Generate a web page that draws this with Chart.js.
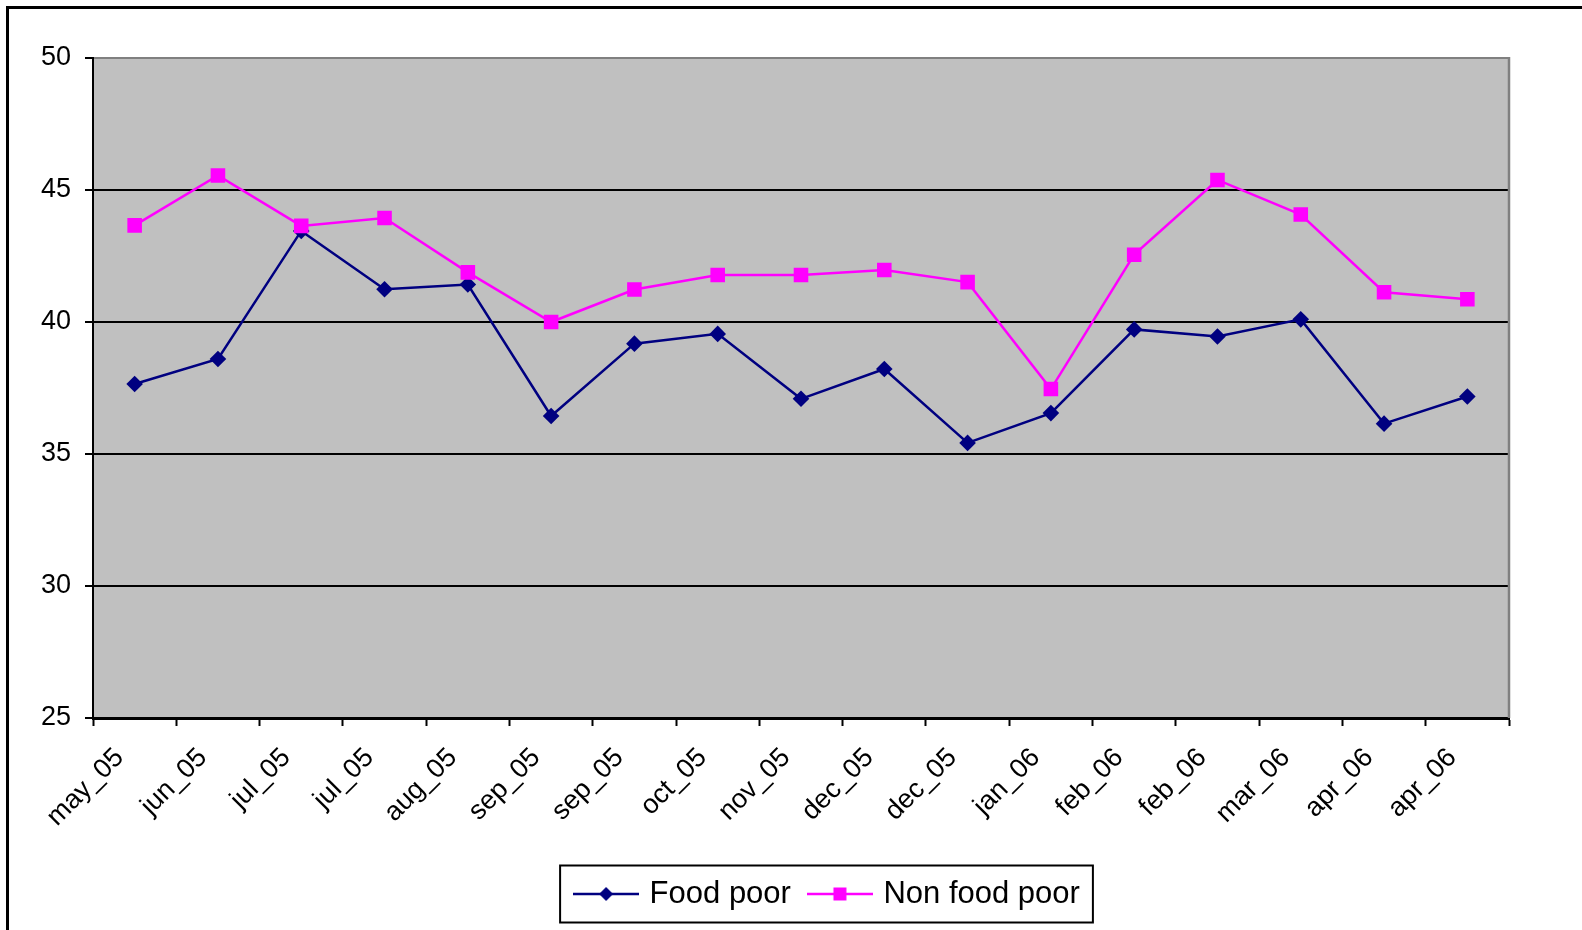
<!DOCTYPE html>
<html>
<head>
<meta charset="utf-8">
<script src="https://cdn.jsdelivr.net/npm/chart.js@4.4.1/dist/chart.umd.min.js"></script>
<style>
  html, body { margin: 0; padding: 0; background: #fff; overflow: hidden; }
  #c { position: absolute; left: 0; top: 0; }
  #frame { position: absolute; left: 6px; top: 6px; width: 1700px; height: 1000px;
           border: 3px solid #000; box-sizing: border-box; pointer-events: none; }
</style>
</head>
<body>
<canvas id="c" width="1658" height="930"></canvas>
<div id="frame"></div>
<script>
// Survey rounds (x axis)
const categories = ['may_05', 'jun_05', 'jul_05', 'jul_05', 'aug_05', 'sep_05', 'sep_05', 'oct_05',
  'nov_05', 'dec_05', 'dec_05', 'jan_06', 'feb_06', 'feb_06', 'mar_06', 'apr_06', 'apr_06'];

// Share of households per round
const foodPoor = [37.65, 38.6, 43.45, 41.24, 41.42, 36.44, 39.18, 39.55, 37.09,
  38.22, 35.42, 36.55, 39.72, 39.45, 40.1, 36.15, 37.18];
const nonFoodPoor = [43.66, 45.55, 43.64, 43.94, 41.88, 40.0, 41.23, 41.78, 41.78,
  41.97, 41.51, 37.46, 42.55, 45.38, 44.07, 41.13, 40.86];

const seriesNames = ['Food poor', 'Non food poor'];
const yMin = 25, yMax = 50, yStep = 5;

const FONT = "'Liberation Sans', Arial, Helvetica, sans-serif";
const NAVY = '#000080', MAGENTA = '#FF00FF';

// Legend swatch: short line with the series marker in the middle
function legendSwatch(color, style, r) {
  const cv = document.createElement('canvas');
  cv.width = 66; cv.height = 20;
  const g = cv.getContext('2d');
  g.strokeStyle = color; g.lineWidth = 2.5;
  g.beginPath(); g.moveTo(0, 10); g.lineTo(66, 10); g.stroke();
  g.fillStyle = color;
  g.beginPath();
  if (style === 'rectRot') {
    g.moveTo(33, 10 - r); g.lineTo(33 + r, 10); g.lineTo(33, 10 + r); g.lineTo(33 - r, 10);
    g.closePath();
  } else {
    g.rect(33 - r, 10 - r, 2 * r, 2 * r);
  }
  g.fill();
  return cv;
}
const swatches = [legendSwatch(NAVY, 'rectRot', 7), legendSwatch(MAGENTA, 'rect', 6.5)];

const CANVAS_W = 1658;
const PLOT_RIGHT = 1509;

const plotDecor = {
  id: 'plotDecor',
  beforeDraw(chart) {
    const { ctx, chartArea: a } = chart;
    ctx.save();
    ctx.fillStyle = '#C0C0C0';
    ctx.fillRect(a.left, a.top, a.right - a.left, a.bottom - a.top);
    ctx.restore();
  },
  beforeDatasetsDraw(chart) {
    const { ctx, chartArea: a } = chart;
    ctx.save();
    ctx.strokeStyle = '#808080';
    ctx.lineWidth = 2.5;
    ctx.beginPath();
    ctx.moveTo(a.right, a.top - 1);
    ctx.lineTo(a.right, a.bottom);
    ctx.stroke();
    ctx.restore();
  },
  afterDraw(chart) {
    const hb = chart.legend && chart.legend.legendHitBoxes;
    if (!hb || !hb.length) return;
    const first = hb[0], last = hb[hb.length - 1];
    const cy = first.top + first.height / 2;
    const left = first.left - 18, right = last.left + last.width + 13;
    const { ctx } = chart;
    ctx.save();
    ctx.strokeStyle = '#000';
    ctx.lineWidth = 2;
    ctx.strokeRect(left, cy - 28.5, right - left, 57);
    ctx.restore();
  }
};

new Chart(document.getElementById('c'), {
  type: 'line',
  data: {
    labels: categories,
    datasets: [
      {
        label: seriesNames[0], data: foodPoor,
        borderColor: NAVY, backgroundColor: NAVY, borderWidth: 2.5,
        pointStyle: 'rectRot', pointRadius: 8.3, pointHoverRadius: 8.3, pointBorderWidth: 0,
        tension: 0, order: 1
      },
      {
        label: seriesNames[1], data: nonFoodPoor,
        borderColor: MAGENTA, backgroundColor: MAGENTA, borderWidth: 2.5,
        pointStyle: 'rect', pointRadius: 10.3, pointHoverRadius: 10.3, pointBorderWidth: 0,
        tension: 0, order: 0
      }
    ]
  },
  options: {
    responsive: false,
    animation: false,
    devicePixelRatio: 1,
    layout: { padding: { top: 58, bottom: 10.5, left: 0, right: 0 } },
    plugins: {
      tooltip: { enabled: false },
      legend: {
        position: 'bottom',
        labels: {
          usePointStyle: true,
          pointStyleWidth: 56,
          padding: 21,
          color: '#000',
          font: { family: FONT, size: 31 },
          generateLabels(chart) {
            return chart.data.datasets.map((ds, i) => ({
              text: ds.label,
              pointStyle: swatches[i],
              fillStyle: ds.borderColor,
              strokeStyle: ds.borderColor,
              lineWidth: 0,
              hidden: false,
              datasetIndex: i,
              fontColor: '#000'
            }));
          }
        }
      }
    },
    scales: {
      x: {
        offset: true,
        grid: { offset: true, drawOnChartArea: false, drawTicks: true, tickLength: 8,
                color: '#000', tickColor: '#000', tickWidth: 2 },
        border: { display: true, color: '#000', width: 3 },
        ticks: { autoSkip: false, minRotation: 45, maxRotation: 45, color: '#000',
                 font: { family: FONT, size: 27 }, padding: 16, labelOffset: -15 },
        afterFit(s) { s.height = 139.5; }
      },
      y: {
        min: yMin, max: yMax,
        grid: {
          color: (c) => (c.tick && c.tick.value === yMax ? '#808080' : '#000'),
          lineWidth: 2, tickLength: 8, tickColor: '#000', tickWidth: 2
        },
        border: { display: true, color: '#000', width: 2 },
        ticks: { stepSize: yStep, color: '#000', font: { family: FONT, size: 27 }, padding: 14 },
        afterFit(s) { s.width = 93; }
      },
      spacer: {
        type: 'linear', position: 'right', display: true,
        grid: { display: false, drawTicks: false },
        border: { display: false },
        ticks: { display: false },
        afterFit(s) { s.width = CANVAS_W - PLOT_RIGHT; }
      }
    }
  },
  plugins: [plotDecor]
});
</script>
</body>
</html>
